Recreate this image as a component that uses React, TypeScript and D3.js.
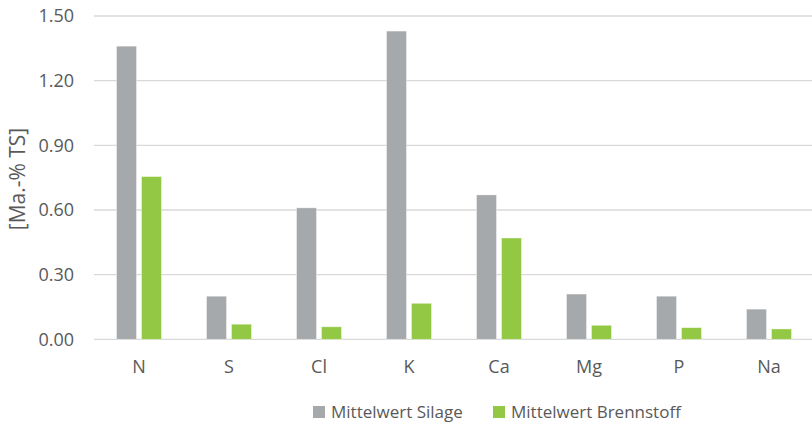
import { useEffect, useRef } from 'react';
import * as d3 from 'd3';

const categories = ['N', 'S', 'Cl', 'K', 'Ca', 'Mg', 'P', 'Na'];
const silage = [1.36, 0.20, 0.61, 1.43, 0.67, 0.21, 0.20, 0.14];
const brennstoff = [0.755, 0.07, 0.058, 0.167, 0.47, 0.065, 0.054, 0.048];
const yTicks = [0, 0.3, 0.6, 0.9, 1.2, 1.5];
const seriesNames = ['Mittelwert Silage', 'Mittelwert Brennstoff'];
const seriesColors = ['#A5A9AB', '#92C843'];

const W = 812;
const H = 425;
const FONT = '"Open Sans", "Noto Sans", sans-serif';

const App = () => {
    const svgRef = useRef<SVGSVGElement>(null);

    useEffect(() => {
        if (!svgRef.current) return;
        const svg = d3.select(svgRef.current);
        svg.selectAll('*').remove();

        const x = d3.scaleBand().domain(categories).range([94, 814]);
        const inner = d3.scaleBand<number>()
            .domain([0, 1])
            .range([22.5, 67.5])
            .paddingInner(0.2);
        const y = d3.scaleLinear().domain([0, 1.5]).range([339.3, 16]);

        // grid
        svg.append('g')
            .selectAll('line')
            .data(yTicks)
            .enter().append('line')
            .attr('x1', 94)
            .attr('x2', W)
            .attr('y1', d => y(d))
            .attr('y2', d => y(d))
            .attr('stroke', '#D9D9D9')
            .attr('stroke-width', 1.3);

        // y tick labels
        svg.append('g')
            .selectAll('text')
            .data(yTicks)
            .enter().append('text')
            .attr('x', 74)
            .attr('y', d => y(d))
            .attr('dy', '0.36em')
            .attr('text-anchor', 'end')
            .attr('fill', '#595959')
            .style('font-family', FONT)
            .style('font-size', '18px')
            .text(d => d3.format('.2f')(d));

        // y axis title
        svg.append('text')
            .attr('transform', `translate(25,179) rotate(-90)`)
            .attr('text-anchor', 'middle')
            .attr('fill', '#595959')
            .style('font-family', FONT)
            .style('font-size', '21px')
            .text('[Ma.-% TS]');

        // bars
        const series = [silage, brennstoff];
        series.forEach((values, si) => {
            svg.append('g')
                .selectAll('rect')
                .data(values)
                .enter().append('rect')
                .attr('x', (_, i) => (x(categories[i]) ?? 0) + (inner(si) ?? 0))
                .attr('y', d => y(d))
                .attr('width', inner.bandwidth())
                .attr('height', d => y(0) - y(d))
                .attr('fill', seriesColors[si])
                .attr('stroke', '#ffffff')
                .attr('stroke-opacity', 0.5)
                .attr('stroke-width', 0.75);
        });

        // x labels
        svg.append('g')
            .selectAll('text')
            .data(categories)
            .enter().append('text')
            .attr('x', d => (x(d) ?? 0) + x.bandwidth() / 2)
            .attr('y', 373)
            .attr('text-anchor', 'middle')
            .attr('fill', '#595959')
            .style('font-family', FONT)
            .style('font-size', '18px')
            .text(d => d);

        // legend
        const legendX = [313, 493];
        const lg = svg.append('g');
        seriesNames.forEach((name, i) => {
            lg.append('rect')
                .attr('x', legendX[i])
                .attr('y', 406)
                .attr('width', 12)
                .attr('height', 12)
                .attr('fill', seriesColors[i]);
            lg.append('text')
                .attr('x', legendX[i] + 18)
                .attr('y', 412)
                .attr('dy', '0.36em')
                .attr('fill', '#595959')
                .style('font-family', FONT)
                .style('font-size', '17px')
                .text(name);
        });
    }, []);

    return (
        <div style={{ position: 'fixed', left: 0, top: 0, background: '#fff' }}>
            <svg ref={svgRef} width={W} height={H} style={{ display: 'block' }}></svg>
        </div>
    );
};

export default App;
